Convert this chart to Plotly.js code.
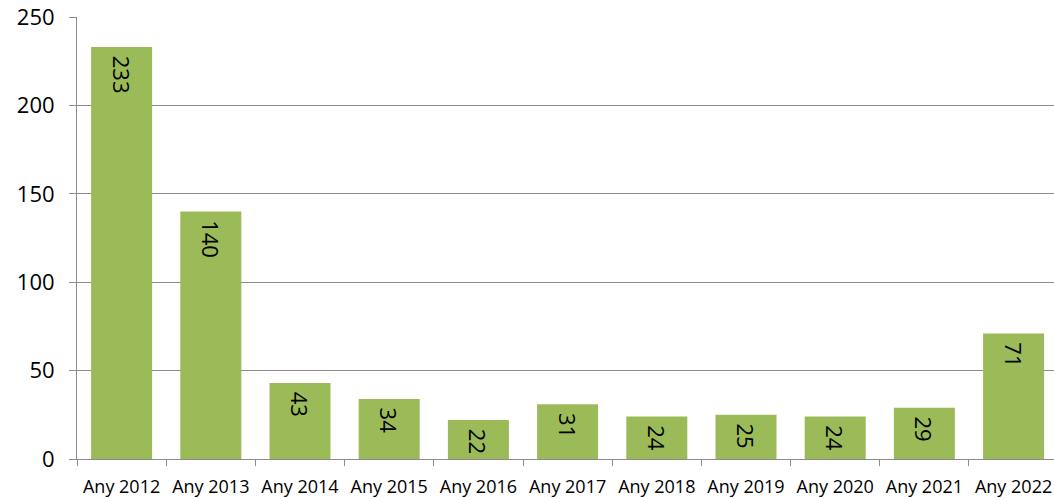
<!DOCTYPE html>
<html>
<head>
<meta charset="utf-8">
<script src="https://cdn.plot.ly/plotly-3.0.1.min.js"></script>
<style>
  html, body { margin: 0; padding: 0; background: #ffffff; }
  #chart { width: 1054px; height: 498px; }
</style>
</head>
<body>
<div id="chart"></div>
<script>
const years = ['Any 2012', 'Any 2013', 'Any 2014', 'Any 2015', 'Any 2016', 'Any 2017',
               'Any 2018', 'Any 2019', 'Any 2020', 'Any 2021', 'Any 2022'];
const counts = [233, 140, 43, 34, 22, 31, 24, 25, 24, 29, 71];
const yTicks = [0, 50, 100, 150, 200, 250];

const trace = {
  type: 'bar',
  x: years,
  y: counts,
  marker: { color: '#9bbb59' },
  // a little padding in front so the label sits a bit below the bar top
  texttemplate: '\u00a0%{y}',
  textposition: 'inside',
  insidetextanchor: 'end',
  textangle: 90,
  constraintext: 'none',
  textfont: { family: 'Open Sans, sans-serif', size: 22, color: '#000000' },
  hoverinfo: 'x+y'
};

const layout = {
  width: 1054,
  height: 498,
  margin: { l: 77, r: 0, t: 17, b: 39 },
  paper_bgcolor: '#ffffff',
  plot_bgcolor: '#ffffff',
  bargap: 0.316,
  showlegend: false,
  font: { family: 'Open Sans, sans-serif', color: '#000000' },
  xaxis: {
    type: 'category',
    range: [-0.5, 10.453],
    tickson: 'boundaries',
    ticks: 'outside',
    ticklen: 6,
    tickcolor: '#8c8c8c',
    showline: true,
    linecolor: '#8c8c8c',
    linewidth: 1,
    showgrid: false,
    ticklabelstandoff: 11,
    tickfont: { size: 18, color: '#000000' },
    fixedrange: true
  },
  yaxis: {
    range: [0, 250],
    tickvals: yTicks,
    ticks: 'outside',
    ticklen: 7,
    tickcolor: '#8c8c8c',
    showline: true,
    linecolor: '#8c8c8c',
    linewidth: 1,
    gridcolor: '#8c8c8c',
    gridwidth: 1,
    zeroline: false,
    ticklabelstandoff: 10,
    tickfont: { size: 22, color: '#000000' },
    fixedrange: true
  }
};

Plotly.newPlot('chart', [trace], layout, { displayModeBar: false, staticPlot: true });
</script>
</body>
</html>
